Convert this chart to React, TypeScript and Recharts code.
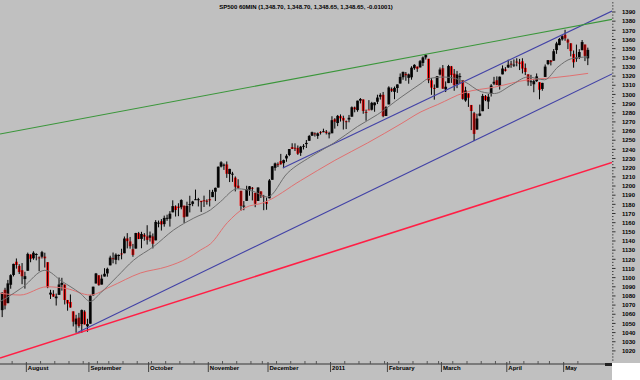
import React from "react";
import { ComposedChart, Bar, Line, XAxis, YAxis, ReferenceLine } from "recharts";

// Daily OHLC rows [open, high, low, close] (one row per session)
const jul10 = [
  [1064.5, 1083.9, 1056.9, 1083.5], [1086.7, 1088.9, 1065.3, 1069.6], [1072.1, 1097.5, 1072.1, 1093.7],
  [1092.2, 1103.7, 1087.9, 1102.7], [1102.9, 1115.2, 1101.3, 1115.0], [1117.4, 1120.9, 1109.8, 1113.8],
  [1112.8, 1114.7, 1103.9, 1106.1], [1108.1, 1115.9, 1092.8, 1101.5], [1098.4, 1106.4, 1088.0, 1101.6],
];
const aug10 = [
  [1107.5, 1127.3, 1107.5, 1125.9], [1125.3, 1125.4, 1116.8, 1120.5], [1121.1, 1128.8, 1119.5, 1127.2],
  [1125.8, 1126.6, 1118.9, 1125.8], [1122.1, 1123.1, 1107.0, 1121.6], [1122.8, 1129.2, 1120.9, 1127.8],
  [1122.9, 1127.2, 1111.0, 1121.1], [1116.9, 1116.9, 1088.5, 1089.5], [1081.5, 1086.7, 1076.7, 1083.6],
  [1082.2, 1086.3, 1079.0, 1079.3], [1077.5, 1082.6, 1069.5, 1079.4], [1081.2, 1100.1, 1081.2, 1092.5],
  [1092.1, 1099.8, 1085.8, 1094.2], [1092.4, 1092.4, 1070.7, 1075.6], [1075.6, 1075.6, 1063.9, 1071.7],
  [1073.4, 1081.6, 1067.1, 1067.4], [1063.2, 1063.2, 1046.7, 1051.9], [1049.0, 1059.4, 1039.8, 1055.3],
  [1056.3, 1061.5, 1045.4, 1047.2], [1049.3, 1065.2, 1039.7, 1064.6], [1062.9, 1064.4, 1048.8, 1048.9],
  [1046.9, 1055.1, 1040.9, 1049.3],
];
const sep10 = [
  [1049.7, 1081.3, 1049.7, 1080.3], [1080.7, 1090.1, 1080.4, 1090.1], [1093.6, 1105.1, 1093.6, 1104.5],
  [1102.6, 1102.6, 1091.2, 1091.8], [1092.4, 1103.3, 1092.4, 1098.9], [1101.2, 1110.3, 1101.2, 1104.2],
  [1104.6, 1110.9, 1101.0, 1109.6], [1113.4, 1123.9, 1113.4, 1121.9], [1121.2, 1127.4, 1115.6, 1121.1],
  [1119.4, 1126.5, 1114.6, 1125.1], [1123.9, 1125.4, 1118.9, 1124.7], [1126.4, 1131.5, 1120.0, 1125.6],
  [1126.6, 1144.9, 1126.6, 1142.7], [1142.8, 1148.6, 1131.9, 1139.8], [1139.5, 1144.4, 1131.6, 1134.3],
  [1131.1, 1136.8, 1122.8, 1124.8], [1131.7, 1148.9, 1131.7, 1148.7], [1148.6, 1149.9, 1142.0, 1142.2],
  [1142.3, 1150.0, 1132.1, 1147.7], [1146.8, 1148.6, 1140.3, 1144.7], [1145.0, 1157.2, 1136.1, 1141.2],
];
const oct10 = [
  [1143.5, 1150.3, 1139.4, 1146.2], [1145.0, 1148.2, 1131.9, 1137.0], [1140.7, 1162.8, 1140.7, 1160.8],
  [1159.8, 1162.3, 1154.9, 1160.0], [1161.6, 1163.9, 1151.4, 1158.1], [1158.4, 1167.7, 1155.6, 1165.2],
  [1165.3, 1168.7, 1162.0, 1165.3], [1164.3, 1172.6, 1155.7, 1169.8], [1171.3, 1184.4, 1171.3, 1178.1],
  [1177.8, 1178.9, 1166.7, 1173.8], [1177.5, 1181.2, 1167.1, 1176.2], [1176.8, 1185.5, 1174.6, 1184.7],
  [1178.6, 1178.6, 1159.7, 1165.9], [1166.7, 1182.9, 1166.7, 1178.2], [1179.6, 1189.4, 1171.2, 1180.3],
  [1180.5, 1183.9, 1178.0, 1183.1], [1184.7, 1196.1, 1184.7, 1185.6], [1184.9, 1187.1, 1177.7, 1185.6],
  [1183.8, 1183.8, 1171.7, 1182.5], [1184.5, 1189.5, 1177.1, 1183.8], [1183.9, 1185.5, 1179.7, 1183.3],
];
const nov10 = [
  [1185.7, 1195.8, 1177.7, 1184.4], [1187.9, 1195.9, 1187.9, 1193.6], [1193.8, 1198.3, 1183.6, 1198.0],
  [1198.3, 1221.3, 1198.3, 1221.1], [1221.2, 1227.1, 1220.3, 1225.9], [1223.2, 1224.6, 1217.6, 1223.3],
  [1223.6, 1226.8, 1208.9, 1213.4], [1213.1, 1218.8, 1204.3, 1218.7], [1213.0, 1215.5, 1204.5, 1213.5],
  [1209.1, 1210.5, 1194.1, 1199.2], [1200.4, 1207.4, 1197.2, 1197.8], [1194.8, 1194.8, 1173.0, 1178.3],
  [1178.3, 1183.6, 1173.6, 1178.6], [1183.8, 1200.3, 1183.8, 1196.7], [1196.1, 1200.0, 1189.4, 1199.7],
  [1198.1, 1198.9, 1184.3, 1197.8], [1192.5, 1192.5, 1176.9, 1180.7], [1183.7, 1198.6, 1183.7, 1198.4],
  [1194.2, 1194.2, 1186.9, 1189.4], [1189.1, 1190.3, 1173.6, 1187.8], [1182.7, 1187.4, 1174.1, 1180.6],
];
const dec10 = [
  [1186.6, 1207.6, 1186.6, 1206.1], [1206.8, 1221.9, 1206.8, 1221.5], [1219.9, 1225.6, 1216.8, 1224.7],
  [1223.9, 1225.8, 1220.7, 1223.1], [1227.3, 1235.1, 1223.3, 1223.8], [1225.0, 1228.9, 1219.5, 1228.3],
  [1230.1, 1234.7, 1226.5, 1233.0], [1233.9, 1240.4, 1232.6, 1240.4], [1242.5, 1246.7, 1240.3, 1240.5],
  [1241.8, 1246.6, 1238.2, 1241.6], [1241.6, 1244.3, 1234.0, 1235.2], [1236.3, 1243.8, 1232.9, 1242.9],
  [1243.6, 1245.8, 1239.9, 1243.9], [1245.8, 1250.2, 1241.5, 1247.1], [1249.4, 1255.8, 1249.4, 1254.6],
  [1254.9, 1259.4, 1254.9, 1258.8], [1257.5, 1258.6, 1254.0, 1256.8], [1254.7, 1258.4, 1251.5, 1257.5],
  [1259.1, 1259.9, 1256.2, 1258.5], [1258.8, 1262.6, 1258.8, 1259.8], [1259.4, 1261.1, 1256.3, 1257.9],
  [1256.8, 1259.3, 1252.0, 1257.6],
];
const jan11 = [
  [1257.6, 1276.2, 1257.6, 1271.9], [1272.9, 1274.1, 1262.7, 1270.2], [1268.8, 1277.6, 1265.4, 1276.6],
  [1276.3, 1278.2, 1270.4, 1273.9], [1274.4, 1276.8, 1261.7, 1271.5], [1270.8, 1271.5, 1262.2, 1269.8],
  [1272.6, 1277.6, 1269.6, 1274.5], [1275.7, 1286.9, 1275.7, 1286.0], [1285.8, 1286.7, 1280.5, 1283.8],
  [1282.9, 1293.2, 1281.1, 1293.2], [1293.2, 1296.1, 1290.2, 1295.0], [1294.5, 1294.6, 1278.9, 1281.9],
  [1280.9, 1283.4, 1271.3, 1280.3], [1283.6, 1293.8, 1283.4, 1283.4], [1283.3, 1291.9, 1282.5, 1290.8],
  [1288.2, 1291.3, 1281.1, 1291.2], [1292.0, 1299.7, 1289.5, 1296.6], [1297.5, 1301.3, 1294.4, 1299.5],
  [1299.6, 1302.7, 1275.1, 1276.3], [1276.5, 1287.2, 1276.5, 1286.1],
];
const feb11 = [
  [1289.1, 1308.9, 1289.1, 1307.6], [1305.9, 1307.6, 1302.6, 1304.0], [1302.8, 1308.6, 1294.8, 1307.1],
  [1307.0, 1311.0, 1301.7, 1310.9], [1311.9, 1322.9, 1311.9, 1319.1], [1318.8, 1324.9, 1316.0, 1324.6],
  [1322.5, 1324.5, 1314.9, 1320.9], [1318.1, 1322.8, 1311.7, 1321.9], [1318.7, 1330.8, 1316.1, 1329.2],
  [1328.7, 1333.0, 1326.9, 1332.3], [1330.4, 1330.4, 1324.6, 1328.0], [1329.5, 1337.6, 1329.5, 1336.3],
  [1334.4, 1341.5, 1331.0, 1340.4], [1340.4, 1344.1, 1338.1, 1343.0], [1338.9, 1338.9, 1312.3, 1315.4],
  [1315.4, 1317.9, 1299.6, 1307.4], [1307.1, 1310.9, 1294.3, 1306.1], [1307.3, 1320.0, 1307.3, 1319.9],
  [1321.6, 1329.4, 1320.6, 1327.2],
];
const mar11 = [
  [1328.6, 1332.1, 1306.1, 1306.3], [1305.5, 1314.2, 1302.6, 1308.4], [1312.4, 1332.3, 1312.4, 1331.0],
  [1330.7, 1331.1, 1312.6, 1321.2], [1322.7, 1327.7, 1304.0, 1310.1], [1311.1, 1325.7, 1306.9, 1321.8],
  [1319.9, 1323.2, 1312.3, 1320.0], [1315.7, 1315.7, 1294.3, 1295.1], [1293.4, 1308.4, 1292.0, 1304.3],
  [1301.2, 1301.2, 1286.4, 1296.4], [1288.5, 1288.5, 1261.1, 1281.9], [1279.5, 1280.9, 1249.1, 1256.9],
  [1261.6, 1278.9, 1261.6, 1273.7], [1276.7, 1288.9, 1276.2, 1279.2], [1281.7, 1300.6, 1281.7, 1298.4],
  [1298.3, 1299.3, 1292.7, 1293.8], [1292.2, 1300.5, 1284.1, 1297.5], [1300.6, 1311.3, 1297.7, 1309.7],
  [1311.8, 1319.2, 1310.2, 1313.8], [1315.5, 1319.7, 1310.2, 1310.2], [1309.4, 1319.5, 1305.3, 1319.4],
  [1321.9, 1331.7, 1321.9, 1328.3], [1327.4, 1329.8, 1325.0, 1325.8],
];
const apr11 = [
  [1329.5, 1337.9, 1328.9, 1332.4], [1333.6, 1336.7, 1329.1, 1332.9], [1332.0, 1338.2, 1330.0, 1332.6],
  [1335.9, 1339.5, 1330.7, 1335.5], [1334.8, 1338.8, 1326.6, 1333.5], [1336.2, 1339.5, 1322.9, 1328.2],
  [1329.0, 1333.8, 1321.1, 1324.5], [1322.0, 1322.0, 1309.5, 1314.2], [1314.0, 1321.4, 1309.2, 1314.4],
  [1311.1, 1316.8, 1302.4, 1314.5], [1314.5, 1322.9, 1313.7, 1319.7], [1313.4, 1313.4, 1294.7, 1305.1],
  [1306.0, 1312.7, 1304.0, 1312.6], [1319.1, 1332.7, 1319.1, 1330.4], [1333.2, 1337.5, 1332.0, 1337.4],
  [1337.1, 1337.6, 1331.7, 1335.3], [1336.8, 1349.6, 1336.8, 1347.2], [1348.4, 1357.5, 1344.3, 1355.7],
  [1353.9, 1361.7, 1353.6, 1360.5], [1360.1, 1364.6, 1358.7, 1363.6],
];
const may11 = [
  [1365.2, 1370.6, 1358.6, 1361.2], [1359.8, 1360.8, 1349.5, 1356.6], [1355.9, 1355.9, 1341.5, 1347.3],
  [1344.2, 1348.0, 1329.2, 1335.1], [1340.2, 1354.4, 1335.6, 1340.2], [1340.2, 1349.4, 1338.6, 1346.3],
  [1348.3, 1359.4, 1348.3, 1357.2], [1354.5, 1354.5, 1336.4, 1342.1], [1339.4, 1351.1, 1332.0, 1348.65],
];

// moving averages [session index, value]
const fastMa = [
  [-0.7, 1074], [1, 1077], [7.4, 1090], [15, 1108], [21, 1096], [27.4, 1083], [31, 1074], [34.5, 1083],
  [40.4, 1101], [46.2, 1119], [53.3, 1134], [60.3, 1152], [67.4, 1165], [73.3, 1174], [76.8, 1183],
  [82.7, 1197], [88.5, 1194], [93.3, 1188], [100.3, 1214], [108.5, 1232], [116.7, 1247], [125, 1265],
  [132, 1278], [140.3, 1297], [147.3, 1312], [149.7, 1317], [155.5, 1319], [162.6, 1314], [168.5, 1303],
  [173.2, 1301], [179, 1310], [184.9, 1319], [190.8, 1316], [195.5, 1330], [200.2, 1339], [206, 1341],
];
const slowMa = [
  [-0.7, 1083], [6.3, 1081], [15.7, 1090], [22.7, 1088], [31, 1081], [38, 1090], [48.6, 1105], [58, 1112],
  [65.1, 1121], [69.7, 1130], [73.3, 1137], [79.2, 1160], [85.2, 1176], [92.1, 1182], [105, 1206],
  [117, 1228], [128.5, 1247], [140.3, 1268], [147.3, 1281], [153.2, 1289], [162.6, 1302], [173.2, 1308],
  [185, 1316], [193.2, 1318], [206.1, 1323],
];

// hand-drawn trendlines [session index, price]
const greenLine = [[-0.77, 1256.8], [214.5, 1382.0]];
const channelTop = [[98.7, 1219.7], [214.5, 1391.0]];
const channelBottom = [[26.5, 1040.2], [214.5, 1322.3]];
const redLine = [[-0.77, 1012.2], [214.5, 1225.7]];

const monthStarts = [9, 31, 52, 73, 94, 116, 136, 155, 178, 198];
const monthLabels = ["August", "September", "October", "November", "December", "2011", "February", "March", "April", "May"];
const weekStarts = [4, 14, 19, 24, 29, 34, 38, 43, 48, 53, 58, 63, 68, 78, 83, 88, 92, 97, 102, 107, 111, 121, 126, 130,
  135, 140, 145, 150, 154, 159, 164, 169, 174, 179, 184, 189, 193, 203];
const priceTicks = [1020, 1030, 1040, 1050, 1060, 1070, 1080, 1090, 1100, 1110, 1120, 1130, 1140, 1150, 1160, 1170,
  1180, 1190, 1200, 1210, 1220, 1230, 1240, 1250, 1260, 1270, 1280, 1290, 1300, 1310, 1320, 1330, 1340, 1350,
  1360, 1370, 1380, 1390];

const candles = [...jul10, ...aug10, ...sep10, ...oct10, ...nov10, ...dec10, ...jan11, ...feb11, ...mar11, ...apr11, ...may11]
  .map((r, i) => ({ x: i, o: r[0], h: r[1], l: r[2], c: r[3], range: [r[2], r[1]] }));

const toPts = (rows: number[][]) => rows.map(([x, v]) => ({ x, v }));
const toSeg = (rows: number[][]) => rows.map(([x, y]) => ({ x, y }));

const xTicks = [...weekStarts, ...monthStarts].map((d) => d - 0.5).sort((a, b) => a - b);
const yTicks = [1010, ...priceTicks, 1400].flatMap((v) => [v, v + 10 / 3, v + 20 / 3]).filter((v) => v < 1403);

const FONT = "'Liberation Sans', Arial, sans-serif";

function Candle(props: any) {
  const { x, y, width, height, payload } = props;
  if (!payload || y == null) return null;
  const { o, h, l, c } = payload;
  const top = Math.min(y, y + height);
  const hgt = Math.abs(height);
  const span = h - l || 1;
  const py = (v: number) => top + ((h - v) / span) * hgt;
  const cx = x + width / 2;
  const b0 = py(Math.max(o, c));
  const b1 = py(Math.min(o, c));
  const up = c >= o;
  return (
    <g>
      <rect x={cx - 1.4} y={b0} width={2.8} height={Math.max(1, b1 - b0)} fill={up ? "#111" : "#ff1010"} />
      <line x1={cx} x2={cx} y1={top} y2={top + hgt} stroke="#000" strokeWidth={1} />
    </g>
  );
}

function MonthTick(props: any) {
  const { x, y, payload } = props;
  const k = monthStarts.indexOf(payload.value + 0.5);
  if (k < 0) {
    return <line x1={x} x2={x} y1={y - 3} y2={y} stroke="#555" strokeWidth={1} />;
  }
  return (
    <g>
      <line x1={x} x2={x} y1={y - 2} y2={y + 8} stroke="#444" strokeWidth={1} />
      <text x={x + 1.5} y={y + 6} fontSize={6} fontWeight="bold" fontFamily={FONT} fill="#000">
        {monthLabels[k]}
      </text>
    </g>
  );
}

function PriceTick(props: any) {
  const { x, y, payload } = props;
  const v = payload.value;
  const major = priceTicks.includes(v);
  if (!major) {
    return <line x1={x} x2={x + 1.5} y1={y} y2={y} stroke="#444" strokeWidth={1} />;
  }
  return (
    <g>
      <line x1={x} x2={x + 3.5} y1={y} y2={y} stroke="#333" strokeWidth={1} />
      <text x={x + 10} y={y + 2.2} fontSize={6} fontWeight="bold" fontFamily={FONT} fill="#000">
        {v}
      </text>
    </g>
  );
}

export default function App() {
  return (
    <div style={{ position: "absolute", left: 0, top: 0, width: 640, height: 380, background: "#c0c0c0", overflow: "hidden" }}>
      <ComposedChart width={640} height={380} data={candles} margin={{ top: 0, right: 0, bottom: 0, left: 0 }}>
        <XAxis
          type="number"
          dataKey="x"
          domain={[-0.77, 214.5]}
          allowDataOverflow
          ticks={xTicks}
          interval={0}
          tick={MonthTick}
          tickLine={false}
          tickSize={0}
          tickMargin={0}
          axisLine={{ stroke: "#7a7a7a", strokeWidth: 2 }}
          height={16}
        />
        <YAxis
          orientation="right"
          type="number"
          domain={[1005.7, 1403.1]}
          allowDataOverflow
          ticks={yTicks}
          interval={0}
          tick={PriceTick}
          tickLine={false}
          tickSize={0}
          tickMargin={0}
          axisLine={false}
          width={28}
        />
        <ReferenceLine segment={toSeg(redLine)} stroke="#ff1f45" strokeWidth={1.6} ifOverflow="hidden" />
        <ReferenceLine segment={toSeg(channelBottom)} stroke="#4242a6" strokeWidth={1.1} ifOverflow="hidden" />
        <ReferenceLine segment={toSeg(channelTop)} stroke="#4242a6" strokeWidth={1.1} ifOverflow="hidden" />
        <ReferenceLine segment={toSeg(greenLine)} stroke="#3a963a" strokeWidth={1.1} ifOverflow="hidden" />
        <Line data={toPts(slowMa)} dataKey="v" type="monotone" stroke="#e07070" strokeWidth={1} dot={false} isAnimationActive={false} />
        <Line data={toPts(fastMa)} dataKey="v" type="monotone" stroke="#6e6e6e" strokeWidth={1} dot={false} isAnimationActive={false} />
        <Bar dataKey="range" barSize={2} shape={Candle} isAnimationActive={false} />
      </ComposedChart>
      <div style={{ position: "absolute", left: 0, top: 3, width: 612, textAlign: "center", fontFamily: FONT, fontSize: 6, fontWeight: "bold", lineHeight: "8px", color: "#000" }}>
        SP500 60MIN (1,348.70, 1,348.70, 1,348.65, 1,348.65, -0.01001)
      </div>
      <div style={{ position: "absolute", left: 612, top: 363, width: 28, height: 17, background: "#fff" }} />
      <div style={{ position: "absolute", left: 605, top: 363, width: 7, height: 3, background: "#222" }} />
    </div>
  );
}
